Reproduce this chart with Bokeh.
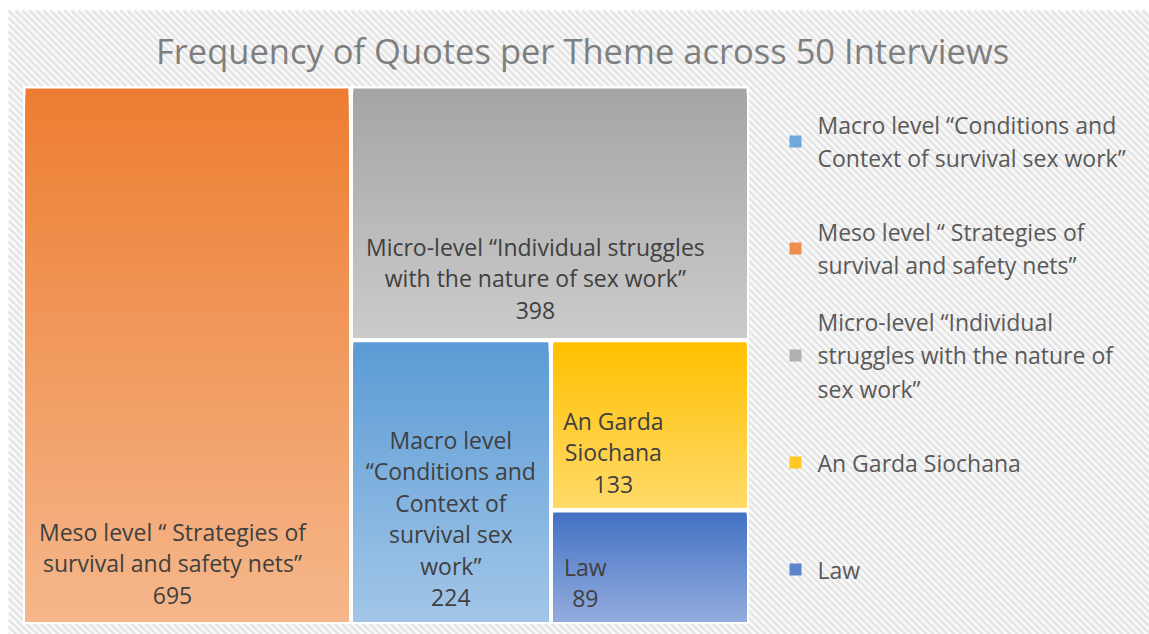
from bokeh.plotting import figure
from bokeh.models import Range1d
from bokeh.embed import file_html
from bokeh.resources import INLINE
from bokeh.core.properties import value

# ---------------- data ----------------
themes = [
    "Macro level “Conditions and Context of survival sex work”",
    "Meso level “ Strategies of survival and safety nets”",
    "Micro-level “Individual struggles with the nature of sex work”",
    "An Garda Siochana",
    "Law",
]
counts = [224, 695, 398, 133, 89]
tile_names = [
    "Macro level\n“Conditions and\nContext of\nsurvival sex\nwork”",
    "Meso level “ Strategies of\nsurvival and safety nets”",
    "Micro-level “Individual struggles\nwith the nature of sex work”",
    "An Garda\nSiochana",
    "Law",
]
legend_names = [
    "Macro level “Conditions and\nContext of survival sex work”",
    "Meso level “ Strategies of\nsurvival and safety nets”",
    "Micro-level “Individual\nstruggles with the nature of\nsex work”",
    "An Garda Siochana",
    "Law",
]
title_text = "Frequency of Quotes per Theme across 50 Interviews"

# ---------------- styles ----------------
top_colors = ["#5B9BD5", "#ED7D31", "#A5A5A5", "#FFC000", "#4472C4"]
bottom_colors = ["#A2C6E8", "#F5B78C", "#CBCBCB", "#FFDA6A", "#93ACDD"]
FONT = "Open Sans"
W, H = 1149, 634
AREA = (22.5, 85.5, 748.5, 623.5)   # treemap area (x0, y0, x1, y1) in screen px
GAP = 5
# label anchor per theme: (x reference, x offset, y reference, y offset)
LABEL_POS = [
    ("center", 0, "bottom", -103),
    ("left", 147, "bottom", -58),
    ("left", 182, "top", 190),
    ("left", 60, "top", 110),
    ("left", 32, "bottom", -39),
]

p = figure(width=W, height=H, x_range=Range1d(0, W), y_range=Range1d(H, 0),
           output_backend="svg", toolbar_location=None, min_border=0)
p.axis.visible = False
p.grid.visible = False
p.outline_line_color = None
p.background_fill_color = "white"
p.border_fill_color = "white"

# ---- hatched chart background ----
fx0, fy0, fx1, fy1 = 8, 10, W, H
p.quad(left=[fx0], right=[fx1], top=[fy0], bottom=[fy1], fill_color="#FAFAFA",
       line_color=None)
sx0, sy0, sx1, sy1 = [], [], [], []
c = fy0 - fx1
period = 7.0
while c < fy1 - fx0:
    xa = max(fx0, fy0 - c)
    xb = min(fx1, fy1 - c)
    if xa < xb:
        sx0.append(xa); sy0.append(xa + c); sx1.append(xb); sy1.append(xb + c)
    c += period
p.segment(x0=sx0, y0=sy0, x1=sx1, y1=sy1, line_color="#E5E5E5", line_width=2.5)

# ---- treemap layout (slice along the longer side) ----
ax0, ay0, ax1, ay1 = AREA
p.quad(left=[ax0], right=[ax1], top=[ay0], bottom=[ay1], fill_color="white", line_color=None)
order = sorted(range(len(counts)), key=lambda i: -counts[i])
remaining = float(sum(counts))
x0, y0, x1, y1 = AREA
rects = {}
for i in order:
    w, h = x1 - x0, y1 - y0
    frac = counts[i] / remaining
    if w >= h:
        xs = x0 + w * frac
        rects[i] = (x0, y0, xs, y1)
        x0 = xs
    else:
        ys = y0 + h * frac
        rects[i] = (x0, y0, x1, ys)
        y0 = ys
    remaining -= counts[i]


def hex2rgb(hx):
    hx = hx.lstrip("#")
    return tuple(int(hx[k:k + 2], 16) for k in (0, 2, 4))


def mix(a, b, t):
    ra, rb = hex2rgb(a), hex2rgb(b)
    return "#%02x%02x%02x" % tuple(int(round(ra[k] + (rb[k] - ra[k]) * t)) for k in range(3))


NSTRIP = 80
L, R, T, B, C = [], [], [], [], []
for i, (rx0, ry0, rx1, ry1) in rects.items():
    l, r, t, b = rx0 + GAP / 2, rx1 - GAP / 2, ry0 + GAP / 2, ry1 - GAP / 2
    hh = (b - t) / NSTRIP
    for k in range(NSTRIP):
        # each strip reaches the tile bottom; later strips cover earlier ones (no seams)
        L.append(l); R.append(r)
        T.append(t + k * hh); B.append(b)
        C.append(mix(top_colors[i], bottom_colors[i], (k + 0.5) / NSTRIP))
p.quad(left=L, right=R, top=T, bottom=B, fill_color=C, line_color=None)

# ---- tile labels ----
lx, ly, lt = [], [], []
for i, (rx0, ry0, rx1, ry1) in rects.items():
    xr, dx, yr, dy = LABEL_POS[i]
    x = (rx0 + rx1) / 2 + dx if xr == "center" else rx0 + GAP / 2 + dx
    y = ry1 - GAP / 2 + dy if yr == "bottom" else ry0 + GAP / 2 + dy
    lx.append(x); ly.append(y); lt.append(tile_names[i] + "\n" + str(counts[i]))
p.text(x=lx, y=ly, text=lt, text_font=value(FONT), text_font_size=value("23px"),
       text_color="#404040", text_align="center", text_baseline="middle",
       text_line_height=0.98)

# ---- title ----
p.text(x=[582], y=[50], text=[title_text], text_font=value(FONT),
       text_font_size=value("34.5px"), text_color="#7F7F7F", text_align="center",
       text_baseline="middle")

# ---- legend ----
leg_y = [141 + 107 * i for i in range(len(themes))]
mid_colors = [mix(top_colors[i], bottom_colors[i], 0.3) for i in range(len(themes))]
p.rect(x=[795] * len(themes), y=leg_y, width=12, height=12, fill_color=mid_colors,
       line_color=None)
p.text(x=[817] * len(themes), y=leg_y, text=legend_names, text_font=value(FONT),
       text_font_size=value("23px"), text_color="#595959", text_align="left",
       text_baseline="middle", text_line_height=1.04)

open("out.html", "w").write(file_html(p, INLINE))
